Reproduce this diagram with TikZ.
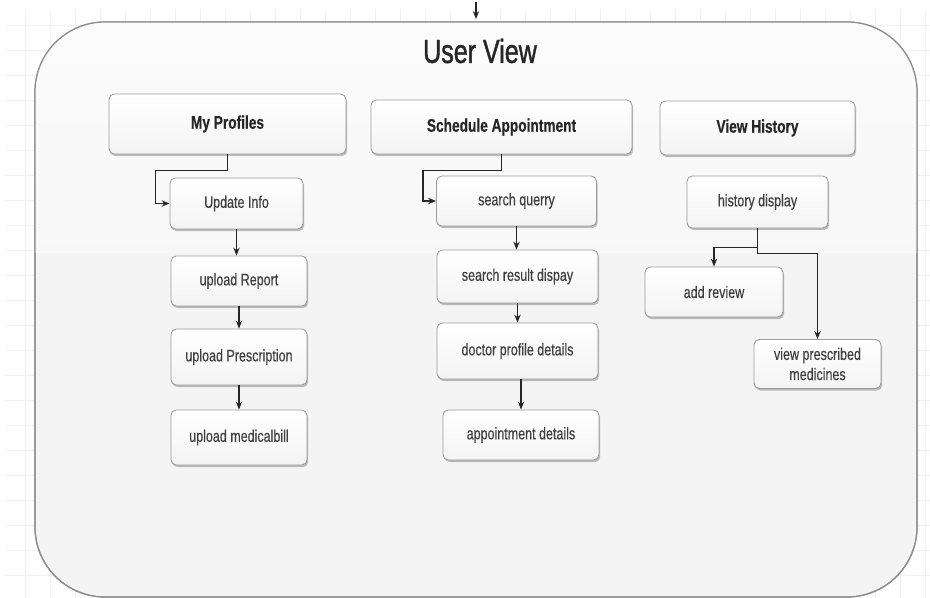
\documentclass[tikz,border=0pt]{standalone}
\usepackage{fontspec}
\newfontfamily\narrowfont[FakeStretch=0.75, FakeBold=0.4]{Liberation Sans}
\newfontfamily\titlefont[FakeStretch=0.75, FakeBold=1.2]{Liberation Sans}
\usetikzlibrary{positioning, calc, arrows.meta, shadows}

\definecolor{boxline}{HTML}{9C9C9C}
\definecolor{panelline}{HTML}{8E8E8E}

\tikzset{
	gridline/.style={draw=gray!12, line width=0.3pt},
	panel/.style={draw=panelline, line width=0.7pt, rounded corners=1.4cm},
	card/.style={draw=boxline, line width=0.5pt, rounded corners=3pt, top color=white, bottom color=gray!9,
		drop shadow={shadow xshift=0.7pt, shadow yshift=-1.2pt, opacity=0.55, fill=gray!90},
		font=\narrowfont\fontsize{9.5}{11.5}\selectfont, text=black!75, align=center, inner sep=1pt},
	head/.style={card, font=\narrowfont\bfseries\fontsize{10.4}{12}\selectfont, text=black!85},
	arr/.style={-{Stealth[length=4.5pt, width=3.6pt]}, draw=black!85, line width=0.8pt},
}

\begin{document}
\begin{tikzpicture}[x=0.02cm, y=-0.02cm]
		\useasboundingbox (0, 0) rectangle (930, 598);
		\fill[white] (0, 0) rectangle (930, 598);
		\draw[gridline, step=0.5cm] (5, 10) grid (930, 598);
		% outer panel
		\fill[panel, fill=gray!9] (35, 22) rectangle (917, 597);
		\begin{scope}
			\clip[rounded corners=1.4cm] (35, 22) rectangle (917, 597);
			\shade[top color=gray!3, bottom color=gray!6] (35, 22) rectangle (917, 252);
		\end{scope}
		\draw[panel] (35, 22) rectangle (917, 597);
		\coordinate (top) at (476, 2);
		\coordinate (topend) at (476, 19);
		\draw[arr] (top) -- (topend);
		\node (title) at (480, 51) {\titlefont\fontsize{19}{22}\selectfont\color{black!85}User View};
		% headers
		\node[head, minimum width=4.74cm, minimum height=1.2cm] (prof) at (227.5, 124) {My Profiles};
		\node[head, minimum width=5.22cm, minimum height=1.08cm] (sched) at (501.5, 127) {Schedule Appointment};
		\node[head, minimum width=3.9cm, minimum height=1.08cm] (hist) at (757.5, 128) {View History};
		% my profiles
		\node[card, minimum width=2.66cm, minimum height=1.02cm] (upd) at (236.5, 203.5) {Update Info};
		\node[card, minimum width=2.72cm, minimum height=1.0cm] (rep) at (239, 281) {upload Report};
		\node[card, minimum width=2.72cm, minimum height=1.12cm] (pres) at (239, 357) {upload Prescription};
		\node[card, minimum width=2.72cm, minimum height=1.1cm] (bill) at (239, 437.5) {upload medicalbill};
		% schedule appointment
		\node[card, minimum width=3.2cm, minimum height=1.0cm] (query) at (516.5, 201) {search querry};
		\node[card, minimum width=3.22cm, minimum height=1.06cm] (result) at (517.5, 276.5) {search result dispay};
		\node[card, minimum width=3.22cm, minimum height=1.12cm] (doc) at (517.5, 351) {doctor profile details};
		\node[card, minimum width=3.12cm, minimum height=1.0cm] (appt) at (521, 435) {appointment details};
		% view history
		\node[card, minimum width=2.82cm, minimum height=1.04cm] (hdisp) at (757.5, 202) {history display};
		\node[card, minimum width=2.76cm, minimum height=1.0cm] (review) at (714, 292) {add review};
		\node[card, minimum width=2.54cm, minimum height=0.98cm] (meds) at (817.5, 364) {view prescribed\\medicines};
		% connectors
		\draw[arr] (prof.south) -- ++(0, 16) -| ($(upd.west)+(-14, 0)$) -- (upd.west);
		\draw[arr] (upd.south) -- (upd.south |- rep.north);
		\draw[arr] (rep.south) -- (rep.south |- pres.north);
		\draw[arr] (pres.south) -- (pres.south |- bill.north);
		\draw[arr] (sched.south) -- ++(0, 16) -| ($(query.west)+(-13, 0)$) -- (query.west);
		\draw[arr] (query.south) -- (query.south |- result.north);
		\draw[arr] (result.south) -- (result.south |- doc.north);
		\draw[arr] (appt.north |- doc.south) -- (appt.north);
		\draw[arr] (hdisp.south) -- ++(0, 19) -| (review.north);
		\draw[arr] (hdisp.south) -- ++(0, 25) -| (meds.north);
	\end{tikzpicture}
\end{document}
